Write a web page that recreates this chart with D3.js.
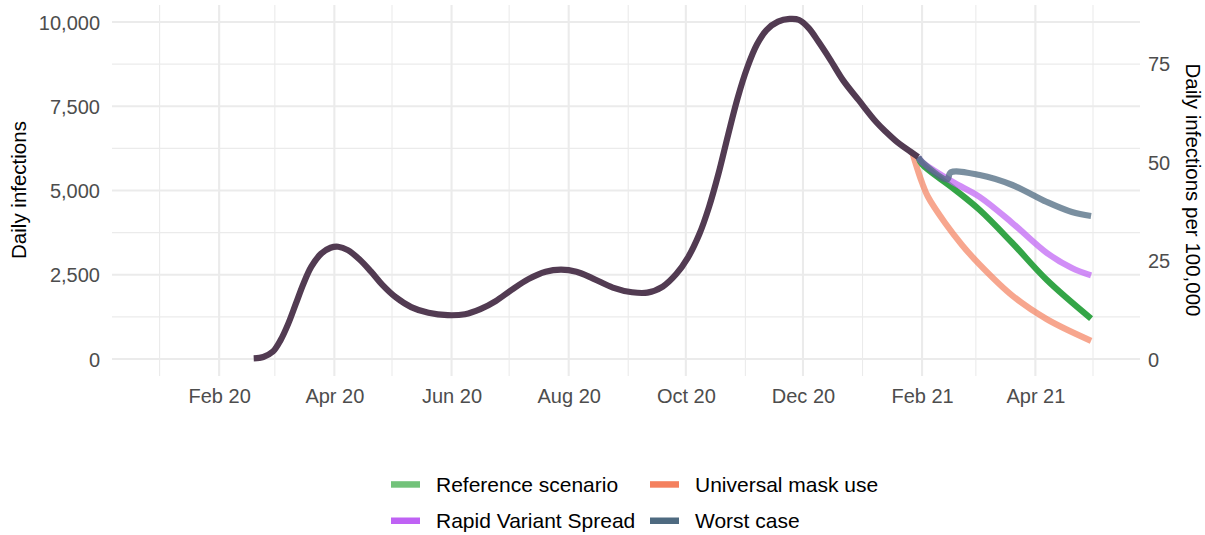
<!DOCTYPE html>
<html>
<head>
<meta charset="utf-8">
<script src="https://cdn.jsdelivr.net/npm/d3@7/dist/d3.min.js"></script>
<style>
  html, body { margin: 0; padding: 0; background: #fff; }
  svg text { font-family: "Liberation Sans", Arial, Helvetica, sans-serif; }
</style>
</head>
<body>
<svg id="chart" width="1205" height="535"></svg>
<script>
// ---------------- DATA ----------------
const history = [
  ["2020-02-19", 20], ["2020-02-24", 60], ["2020-02-29", 220], ["2020-03-04", 560],
  ["2020-03-08", 1050], ["2020-03-12", 1650], ["2020-03-16", 2250], ["2020-03-20", 2740],
  ["2020-03-25", 3120], ["2020-03-30", 3300], ["2020-04-03", 3330], ["2020-04-08", 3230],
  ["2020-04-14", 2960], ["2020-04-20", 2600], ["2020-04-26", 2200], ["2020-05-03", 1830],
  ["2020-05-11", 1540], ["2020-05-20", 1370], ["2020-05-30", 1300], ["2020-06-08", 1330],
  ["2020-06-16", 1480], ["2020-06-24", 1720], ["2020-07-02", 2040], ["2020-07-11", 2370],
  ["2020-07-20", 2590], ["2020-07-28", 2650], ["2020-08-05", 2590], ["2020-08-14", 2380],
  ["2020-08-24", 2120], ["2020-09-03", 1980], ["2020-09-11", 1970], ["2020-09-19", 2150],
  ["2020-09-26", 2520], ["2020-10-02", 3000], ["2020-10-08", 3700], ["2020-10-13", 4500],
  ["2020-10-18", 5500], ["2020-10-23", 6650], ["2020-10-28", 7750], ["2020-11-02", 8650],
  ["2020-11-07", 9330], ["2020-11-12", 9760], ["2020-11-18", 10010], ["2020-11-24", 10090],
  ["2020-11-29", 10060], ["2020-12-04", 9820], ["2020-12-09", 9420], ["2020-12-15", 8900],
  ["2020-12-22", 8260], ["2020-12-30", 7680], ["2021-01-08", 7040], ["2021-01-13", 6750],
  ["2021-01-18", 6490], ["2021-01-24", 6230], ["2021-01-30", 5993]
];
const reference = [
  ["2021-01-30", 5993], ["2021-02-01", 5780], ["2021-02-17", 5074], ["2021-03-03", 4421],
  ["2021-03-20", 3442], ["2021-04-07", 2344], ["2021-04-30", 1200]
];
const mask = [
  ["2021-01-27", 6110], ["2021-01-30", 5560], ["2021-02-01", 5230], ["2021-02-04", 4820],
  ["2021-02-13", 4035], ["2021-02-22", 3370], ["2021-03-03", 2800], ["2021-03-20", 1880],
  ["2021-04-07", 1180], ["2021-04-30", 540]
];
const variant = [
  ["2021-01-30", 5993], ["2021-02-01", 5845], ["2021-02-17", 5252], ["2021-03-03", 4807],
  ["2021-03-20", 4035], ["2021-04-07", 3145], ["2021-04-20", 2700], ["2021-04-30", 2480]
];
const worst = [
  ["2021-01-30", 5993], ["2021-02-01", 5845], ["2021-02-14", 5330], ["2021-02-16", 5540],
  ["2021-03-03", 5459], ["2021-03-20", 5163], ["2021-04-07", 4658], ["2021-04-20", 4361],
  ["2021-04-30", 4243]
];
const seriesNames = ["Reference scenario", "Universal mask use", "Rapid Variant Spread", "Worst case"];
const xTickDates = ["2020-02-01","2020-04-01","2020-06-01","2020-08-01","2020-10-01","2020-12-01","2021-02-01","2021-04-01"];
const xMinorDates = ["2020-01-01","2020-03-01","2020-05-01","2020-07-01","2020-09-01","2020-11-01","2021-01-01","2021-03-01","2021-05-01"];
const yTicks = [0, 2500, 5000, 7500, 10000];
const yMinor = [1250, 3750, 6250, 8750];
const yRightTicks = [0, 25, 50, 75];
const population = 11689100;

// ---------------- CHART ----------------
const parse = d3.timeParse("%Y-%m-%d");
const svg = d3.select("#chart");
const panel = {left: 112, right: 1140, top: 5, bottom: 376};

const x = d3.scaleTime()
  .domain([parse("2020-01-01"), parse("2021-05-01")])
  .range([159.6, 1093]);
const y = d3.scaleLinear().domain([0, 10000]).range([359, 22]);
const yR = d3.scaleLinear().domain([0, 10000 * 100000 / population]).range([359, 22]);

// grid
const grid = svg.append("g");
grid.selectAll(".hmin").data(yMinor).join("line")
  .attr("x1", panel.left).attr("x2", panel.right)
  .attr("y1", d => y(d)).attr("y2", d => y(d))
  .attr("stroke", "#EBEBEB").attr("stroke-width", 1.1);
grid.selectAll(".vmin").data(xMinorDates).join("line")
  .attr("x1", d => x(parse(d))).attr("x2", d => x(parse(d)))
  .attr("y1", panel.top).attr("y2", panel.bottom)
  .attr("stroke", "#EBEBEB").attr("stroke-width", 1.1);
grid.selectAll(".hmaj").data(yTicks).join("line")
  .attr("x1", panel.left).attr("x2", panel.right)
  .attr("y1", d => y(d)).attr("y2", d => y(d))
  .attr("stroke", "#EBEBEB").attr("stroke-width", 2.1);
grid.selectAll(".vmaj").data(xTickDates).join("line")
  .attr("x1", d => x(parse(d))).attr("x2", d => x(parse(d)))
  .attr("y1", panel.top).attr("y2", panel.bottom)
  .attr("stroke", "#EBEBEB").attr("stroke-width", 2.1);

// axes
const fmtDate = d3.timeFormat("%b %y");
const xAxis = svg.append("g").attr("transform", `translate(0,${panel.bottom})`)
  .call(d3.axisBottom(x).tickValues(xTickDates.map(parse)).tickFormat(fmtDate).tickSize(0).tickPadding(0));
xAxis.select(".domain").remove();
xAxis.selectAll("text").attr("dy", null).attr("y", 26.5)
  .attr("fill", "#4D4D4D").style("font-size", "20px");

const yAxis = svg.append("g").attr("transform", `translate(100,0)`)
  .call(d3.axisLeft(y).tickValues(yTicks).tickFormat(d3.format(",")).tickSize(0).tickPadding(0));
yAxis.select(".domain").remove();
yAxis.selectAll("text").attr("fill", "#4D4D4D").style("font-size", "20px").attr("dy", "0.35em");

const yAxisR = svg.append("g").attr("transform", `translate(1148,0)`)
  .call(d3.axisRight(yR).tickValues(yRightTicks).tickSize(0).tickPadding(0));
yAxisR.select(".domain").remove();
yAxisR.selectAll("text").attr("fill", "#4D4D4D").style("font-size", "20px").attr("dy", "0.35em");

svg.selectAll(".tick line").remove();

// axis titles
svg.append("text").attr("transform", `translate(26,190) rotate(-90)`)
  .attr("text-anchor", "middle").attr("fill", "#000").style("font-size", "20.5px")
  .text("Daily infections");
svg.append("text").attr("transform", `translate(1185.5,190) rotate(90)`)
  .attr("text-anchor", "middle").attr("fill", "#000").style("font-size", "20.5px")
  .text("Daily infections per 100,000");

// lines
const line = d3.line()
  .x(d => x(parse(d[0])))
  .y(d => y(d[1]))
  .curve(d3.curveCatmullRom.alpha(0.5));

const lines = [
  {data: mask, color: "#F4805E", opacity: 0.7},
  {data: reference, color: "#34A547", opacity: 1},
  {data: variant, color: "#BF62F4", opacity: 0.72},
  {data: worst, color: "#4E6A80", opacity: 0.75},
  {data: history, color: "#523B52", opacity: 1}
];
svg.append("g").selectAll("path").data(lines).join("path")
  .attr("d", d => line(d.data))
  .attr("fill", "none")
  .attr("stroke", d => d.color)
  .attr("stroke-opacity", d => d.opacity)
  .attr("stroke-width", 6.2)
  .attr("stroke-linejoin", "round")
  .attr("stroke-linecap", "butt");

// legend
const legendColors = ["#72C27A", "#F4805E", "#BF62F4", "#4E6A80"];
const legendPos = [
  {kx: 391, ty: 491.7}, {kx: 650, ty: 491.7},
  {kx: 391, ty: 528}, {kx: 650, ty: 528}
];
const lg = svg.append("g");
seriesNames.forEach((name, i) => {
  const p = legendPos[i];
  lg.append("rect").attr("x", p.kx).attr("y", p.ty - 10.5).attr("width", 29).attr("height", 6.5)
    .attr("fill", legendColors[i]);
  lg.append("text").attr("x", p.kx + 45).attr("y", p.ty)
    .attr("fill", "#000").style("font-size", "21px").text(name);
});
</script>
</body>
</html>
